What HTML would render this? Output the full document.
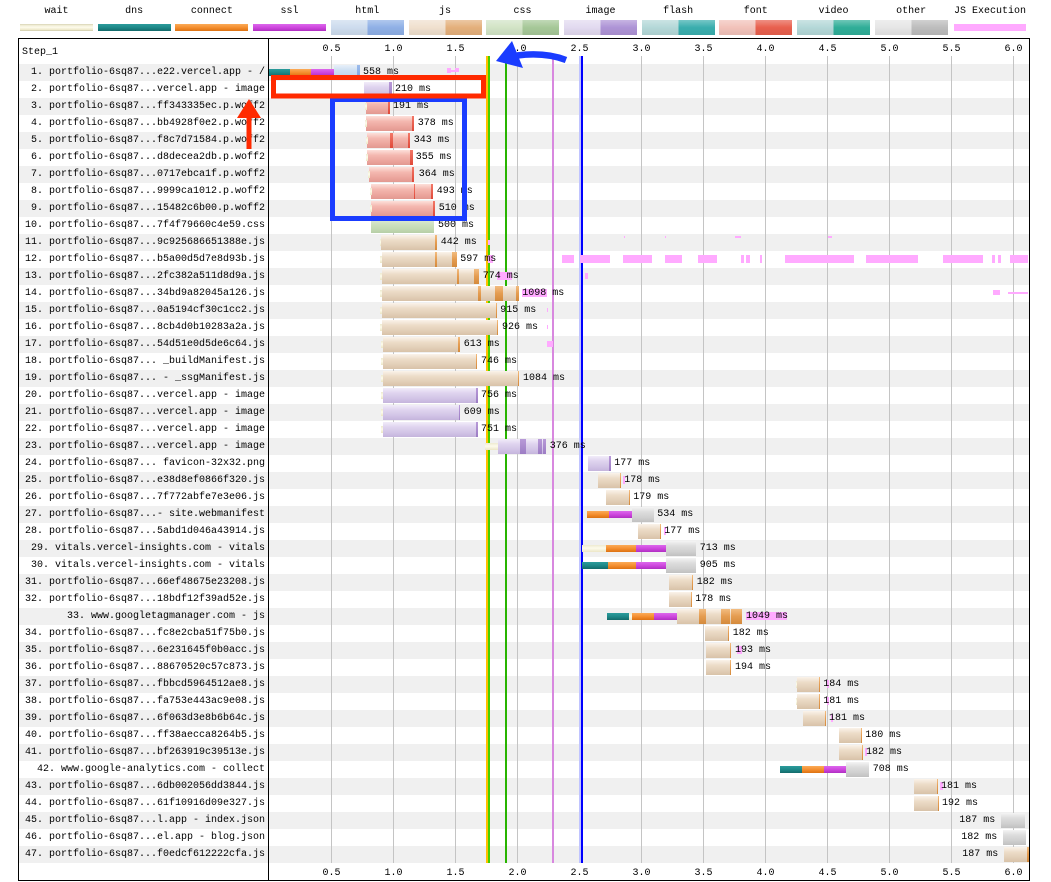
<!DOCTYPE html>
<html><head><meta charset="utf-8">
<style>
*{margin:0;padding:0;box-sizing:border-box}
body{width:1051px;height:882px;background:#fff;position:relative;overflow:hidden;font-family:"Liberation Mono","DejaVu Sans Mono",monospace;font-size:10px;color:#000}
.a{position:absolute}
.lt{position:absolute;top:4px;width:73px;text-align:center;line-height:15px;white-space:nowrap}
.lg{position:absolute;top:20px;height:15px;width:73px}
.lgt{position:absolute;top:24px;height:7px;width:73px}
.st{position:absolute;left:19px;width:1010px;height:17px;background:#f0f0f0}
.tk{position:absolute;top:56px;width:1px;height:807px;background:#c4c4c4}
.ev{position:absolute;top:56px;width:2px;height:807px}
.tl{position:absolute;width:40px;text-align:center;line-height:14px}
.lab{position:absolute;left:19px;top:64px;width:246px;text-align:right;white-space:nowrap}
.lab div{height:17px;line-height:17px;white-space:pre}
.rw{position:absolute;left:0;width:1051px;height:17px}
.rw div{position:absolute}
.f{top:1px;height:15px}
.t{top:5px;height:7px}
.m{top:0;line-height:17px;white-space:nowrap}
.p{top:4px;height:8px;background:#ffaaff}
.js{background:linear-gradient(#faf3ea,#ecdcc8 35%,#e2cfb8 70%,#d8c2a8)}
.jd{background:linear-gradient(#f2bc80,#e49c50 50%,#d48a3c)}
.fo{background:linear-gradient(#fde0da,#f4b8b0 35%,#eca69e 70%,#e29890)}
.fd{background:linear-gradient(#f27868,#e04838)}
.im{background:linear-gradient(#f2ecf9,#ded3ee 35%,#d2c4e6 70%,#c4b4dc)}
.id{background:linear-gradient(#b89ad8,#9c7cc4)}
.cs{background:linear-gradient(#e6f1de,#d0e2c4 35%,#c4dab4 70%,#b6cea6)}
.ht{background:linear-gradient(#e8f0f9,#cedff2 35%,#c2d6ee 70%,#b2cae6)}
.hd{background:linear-gradient(#9cbcec,#7aa0e0)}
.ot{background:linear-gradient(#f4f4f4,#dcdcdc 35%,#d0d0d0 70%,#c0c0c0)}
.dn{background:linear-gradient(#2c9c9c,#1c8686 55%,#136a6a)}
.cn{background:linear-gradient(#fbab58,#f38c2c 55%,#dc7212)}
.ss{background:linear-gradient(#dc68ec,#cc44dc 55%,#b02ec2)}
.wt{background:linear-gradient(#eeead0,#fdfbec 45%,#ece6c6)}
</style></head><body>

<!-- legend -->
<div class="lt" style="left:20px">wait</div>
<div class="lt" style="left:97.7px">dns</div>
<div class="lt" style="left:175.4px">connect</div>
<div class="lt" style="left:253px">ssl</div>
<div class="lt" style="left:330.8px">html</div>
<div class="lt" style="left:408.5px">js</div>
<div class="lt" style="left:486px">css</div>
<div class="lt" style="left:564px">image</div>
<div class="lt" style="left:641.6px">flash</div>
<div class="lt" style="left:719.3px">font</div>
<div class="lt" style="left:797px">video</div>
<div class="lt" style="left:874.7px">other</div>
<div class="lt" style="left:950px;width:80px">JS Execution</div>

<div class="lgt wt" style="left:20px;border-top:1px solid #e0dcc0;border-bottom:1px solid #d8d4b4"></div>
<div class="lgt dn" style="left:97.7px"></div>
<div class="lgt cn" style="left:175.4px"></div>
<div class="lgt ss" style="left:253px"></div>
<div class="lg" style="left:330.8px;background:linear-gradient(rgba(255,255,255,.3),rgba(255,255,255,0) 50%,rgba(0,0,0,.06)),linear-gradient(to right,#cddcee 50%,#8fb0e6 50%)"></div>
<div class="lg" style="left:408.5px;background:linear-gradient(rgba(255,255,255,.3),rgba(255,255,255,0) 50%,rgba(0,0,0,.06)),linear-gradient(to right,#f0e0ce 50%,#e4b07c 50%)"></div>
<div class="lg" style="left:486px;background:linear-gradient(rgba(255,255,255,.3),rgba(255,255,255,0) 50%,rgba(0,0,0,.06)),linear-gradient(to right,#d2e4c6 50%,#a6c898 50%)"></div>
<div class="lg" style="left:564px;background:linear-gradient(rgba(255,255,255,.3),rgba(255,255,255,0) 50%,rgba(0,0,0,.06)),linear-gradient(to right,#e2daf0 50%,#ae94d6 50%)"></div>
<div class="lg" style="left:641.6px;background:linear-gradient(rgba(255,255,255,.3),rgba(255,255,255,0) 50%,rgba(0,0,0,.06)),linear-gradient(to right,#b4d8d8 50%,#3aaeae 50%)"></div>
<div class="lg" style="left:719.3px;background:linear-gradient(rgba(255,255,255,.3),rgba(255,255,255,0) 50%,rgba(0,0,0,.06)),linear-gradient(to right,#f2c2ba 50%,#e8604e 50%)"></div>
<div class="lg" style="left:797px;background:linear-gradient(rgba(255,255,255,.3),rgba(255,255,255,0) 50%,rgba(0,0,0,.06)),linear-gradient(to right,#b4d8d8 50%,#30ae98 50%)"></div>
<div class="lg" style="left:874.7px;background:linear-gradient(rgba(255,255,255,.3),rgba(255,255,255,0) 50%,rgba(0,0,0,.06)),linear-gradient(to right,#e6e6e6 50%,#bdbdbd 50%)"></div>
<div class="lgt" style="left:954px;width:72px;background:#ffaaff"></div>

<!-- stripes -->
<div class="st" style="top:64px"></div>
<div class="st" style="top:98px"></div>
<div class="st" style="top:132px"></div>
<div class="st" style="top:166px"></div>
<div class="st" style="top:200px"></div>
<div class="st" style="top:234px"></div>
<div class="st" style="top:268px"></div>
<div class="st" style="top:302px"></div>
<div class="st" style="top:336px"></div>
<div class="st" style="top:370px"></div>
<div class="st" style="top:404px"></div>
<div class="st" style="top:438px"></div>
<div class="st" style="top:472px"></div>
<div class="st" style="top:506px"></div>
<div class="st" style="top:540px"></div>
<div class="st" style="top:574px"></div>
<div class="st" style="top:608px"></div>
<div class="st" style="top:642px"></div>
<div class="st" style="top:676px"></div>
<div class="st" style="top:710px"></div>
<div class="st" style="top:744px"></div>
<div class="st" style="top:778px"></div>
<div class="st" style="top:812px"></div>
<div class="st" style="top:846px"></div>

<!-- ticks -->
<div class="tk" style="left:331px"></div>
<div class="tk" style="left:393px"></div>
<div class="tk" style="left:455px"></div>
<div class="tk" style="left:517px"></div>
<div class="tk" style="left:579px"></div>
<div class="tk" style="left:641px"></div>
<div class="tk" style="left:703px"></div>
<div class="tk" style="left:765px"></div>
<div class="tk" style="left:827px"></div>
<div class="tk" style="left:889px"></div>
<div class="tk" style="left:951px"></div>
<div class="tk" style="left:1013px"></div>

<!-- tick labels top -->
<div class="tl" style="top:43px;left:311.5px">0.5</div>
<div class="tl" style="top:43px;left:373.5px">1.0</div>
<div class="tl" style="top:43px;left:435.5px">1.5</div>
<div class="tl" style="top:43px;left:497.5px">2.0</div>
<div class="tl" style="top:43px;left:559.5px">2.5</div>
<div class="tl" style="top:43px;left:621.5px">3.0</div>
<div class="tl" style="top:43px;left:683.5px">3.5</div>
<div class="tl" style="top:43px;left:745.5px">4.0</div>
<div class="tl" style="top:43px;left:807.5px">4.5</div>
<div class="tl" style="top:43px;left:869.5px">5.0</div>
<div class="tl" style="top:43px;left:931.5px">5.5</div>
<div class="tl" style="top:43px;left:993.5px">6.0</div>
<!-- tick labels bottom -->
<div class="tl" style="top:867px;left:311.5px">0.5</div>
<div class="tl" style="top:867px;left:373.5px">1.0</div>
<div class="tl" style="top:867px;left:435.5px">1.5</div>
<div class="tl" style="top:867px;left:497.5px">2.0</div>
<div class="tl" style="top:867px;left:559.5px">2.5</div>
<div class="tl" style="top:867px;left:621.5px">3.0</div>
<div class="tl" style="top:867px;left:683.5px">3.5</div>
<div class="tl" style="top:867px;left:745.5px">4.0</div>
<div class="tl" style="top:867px;left:807.5px">4.5</div>
<div class="tl" style="top:867px;left:869.5px">5.0</div>
<div class="tl" style="top:867px;left:931.5px">5.5</div>
<div class="tl" style="top:867px;left:993.5px">6.0</div>

<!-- event lines -->
<div class="ev" style="left:486px;background:#ffc000"></div>
<div class="ev" style="left:488px;background:#44d000"></div>
<div class="ev" style="left:505px;background:#28b400"></div>
<div class="ev" style="left:551.5px;background:#d888df"></div>
<div class="ev" style="left:579px;background:#c0c4ff"></div>
<div class="ev" style="left:581px;background:#0000ff"></div>

<!-- frame -->
<div class="a" style="left:18px;top:38px;width:1012px;height:843px;border:1px solid #000"></div>
<div class="a" style="left:268px;top:38px;width:1px;height:843px;background:#000"></div>
<div class="a" style="left:22px;top:45px;line-height:15px">Step_1</div>

<!-- labels -->
<div class="lab"><div>1. portfolio-6sq87...e22.vercel.app - /</div><div>2. portfolio-6sq87...vercel.app - image</div><div>3. portfolio-6sq87...ff343335ec.p.woff2</div><div>4. portfolio-6sq87...bb4928f0e2.p.woff2</div><div>5. portfolio-6sq87...f8c7d71584.p.woff2</div><div>6. portfolio-6sq87...d8decea2db.p.woff2</div><div>7. portfolio-6sq87...0717ebca1f.p.woff2</div><div>8. portfolio-6sq87...9999ca1012.p.woff2</div><div>9. portfolio-6sq87...15482c6b00.p.woff2</div><div>10. portfolio-6sq87...7f4f79660c4e59.css</div><div>11. portfolio-6sq87...9c925686651388e.js</div><div>12. portfolio-6sq87...b5a00d5d7e8d93b.js</div><div>13. portfolio-6sq87...2fc382a511d8d9a.js</div><div>14. portfolio-6sq87...34bd9a82045a126.js</div><div>15. portfolio-6sq87...0a5194cf30c1cc2.js</div><div>16. portfolio-6sq87...8cb4d0b10283a2a.js</div><div>17. portfolio-6sq87...54d51e0d5de6c64.js</div><div>18. portfolio-6sq87... _buildManifest.js</div><div>19. portfolio-6sq87... - _ssgManifest.js</div><div>20. portfolio-6sq87...vercel.app - image</div><div>21. portfolio-6sq87...vercel.app - image</div><div>22. portfolio-6sq87...vercel.app - image</div><div>23. portfolio-6sq87...vercel.app - image</div><div>24. portfolio-6sq87... favicon-32x32.png</div><div>25. portfolio-6sq87...e38d8ef0866f320.js</div><div>26. portfolio-6sq87...7f772abfe7e3e06.js</div><div>27. portfolio-6sq87...- site.webmanifest</div><div>28. portfolio-6sq87...5abd1d046a43914.js</div><div>29. vitals.vercel-insights.com - vitals</div><div>30. vitals.vercel-insights.com - vitals</div><div>31. portfolio-6sq87...66ef48675e23208.js</div><div>32. portfolio-6sq87...18bdf12f39ad52e.js</div><div>33. www.googletagmanager.com - js</div><div>34. portfolio-6sq87...fc8e2cba51f75b0.js</div><div>35. portfolio-6sq87...6e231645f0b0acc.js</div><div>36. portfolio-6sq87...88670520c57c873.js</div><div>37. portfolio-6sq87...fbbcd5964512ae8.js</div><div>38. portfolio-6sq87...fa753e443ac9e08.js</div><div>39. portfolio-6sq87...6f063d3e8b6b64c.js</div><div>40. portfolio-6sq87...ff38aecca8264b5.js</div><div>41. portfolio-6sq87...bf263919c39513e.js</div><div>42. www.google-analytics.com - collect</div><div>43. portfolio-6sq87...6db002056dd3844.js</div><div>44. portfolio-6sq87...61f10916d09e327.js</div><div>45. portfolio-6sq87...l.app - index.json</div><div>46. portfolio-6sq87...el.app - blog.json</div><div>47. portfolio-6sq87...f0edcf612222cfa.js</div></div>

<!-- rows -->
<div class="rw" style="top:64px">
<div class="t dn" style="left:269px;width:21px"></div>
<div class="t cn" style="left:290px;width:21px"></div>
<div class="t ss" style="left:311px;width:23px"></div>
<div class="f ht" style="left:334px;width:23px"></div>
<div class="f hd" style="left:357px;width:2.5px"></div>
<div class="p" style="left:447px;width:12px;top:6px;height:2px"></div>
<div class="p" style="left:447px;width:4px;top:4px;height:5px"></div>
<div class="p" style="left:455px;width:4px;top:4px;height:4px"></div>
<div class="m" style="left:363px">558 ms</div>
</div>
<div class="rw" style="top:81px">
<div class="f im" style="left:364px;width:25px"></div>
<div class="f id" style="left:389px;width:2.5px"></div>
<div class="m" style="left:395px">210 ms</div>
</div>
<div class="rw" style="top:98px">
<div class="f fo" style="left:366px;width:22px"></div>
<div class="f fd" style="left:388px;width:2px"></div>
<div class="t wt" style="left:365px;width:2px"></div>
<div class="m" style="left:393px">191 ms</div>
</div>
<div class="rw" style="top:115px">
<div class="f fo" style="left:366px;width:46px"></div>
<div class="f fd" style="left:412px;width:2px"></div>
<div class="t wt" style="left:365px;width:2px"></div>
<div class="m" style="left:417.7px">378 ms</div>
</div>
<div class="rw" style="top:132px">
<div class="f fo" style="left:367px;width:23px"></div>
<div class="f fd" style="left:390px;width:3px"></div>
<div class="f fo" style="left:393px;width:15px"></div>
<div class="f fd" style="left:408px;width:2px"></div>
<div class="t wt" style="left:366px;width:2px"></div>
<div class="m" style="left:413.7px">343 ms</div>
</div>
<div class="rw" style="top:149px">
<div class="f fo" style="left:367px;width:43px"></div>
<div class="f fd" style="left:410px;width:2.5px"></div>
<div class="t wt" style="left:366px;width:2px"></div>
<div class="m" style="left:415.7px">355 ms</div>
</div>
<div class="rw" style="top:166px">
<div class="f fo" style="left:369px;width:43px"></div>
<div class="f fd" style="left:412px;width:2.3px"></div>
<div class="t wt" style="left:368px;width:2px"></div>
<div class="m" style="left:418.7px">364 ms</div>
</div>
<div class="rw" style="top:183px">
<div class="f fo" style="left:371px;width:43px"></div>
<div class="f fd" style="left:414px;width:1px"></div>
<div class="f fo" style="left:415px;width:16px"></div>
<div class="f fd" style="left:431px;width:2.3px"></div>
<div class="t wt" style="left:370px;width:2px"></div>
<div class="m" style="left:436.7px">493 ms</div>
</div>
<div class="rw" style="top:200px">
<div class="f fo" style="left:371px;width:61.5px"></div>
<div class="f fd" style="left:432.5px;width:2.5px"></div>
<div class="t wt" style="left:370px;width:2px"></div>
<div class="m" style="left:438.7px">510 ms</div>
</div>
<div class="rw" style="top:217px">
<div class="f cs" style="left:371px;width:62.7px"></div>
<div class="m" style="left:438px">500 ms</div>
</div>
<div class="rw" style="top:234px">
<div class="t wt" style="left:379.5px;width:2px"></div>
<div class="f js" style="left:381px;width:54px"></div>
<div class="f jd" style="left:435px;width:1.7px"></div>
<div class="p" style="left:488px;width:2px;top:6px;height:5px"></div>
<div class="p" style="left:624px;width:1px;top:2px;height:2px"></div>
<div class="p" style="left:665px;width:1px;top:2px;height:2px"></div>
<div class="p" style="left:735px;width:6px;top:2px;height:2px"></div>
<div class="p" style="left:828px;width:4px;top:2px;height:2px"></div>
<div class="m" style="left:440.7px">442 ms</div>
</div>
<div class="rw" style="top:251px">
<div class="t wt" style="left:380px;width:2px"></div>
<div class="f js" style="left:382px;width:53px"></div>
<div class="f jd" style="left:435px;width:1.7px"></div>
<div class="f js" style="left:436.7px;width:15.6px"></div>
<div class="f jd" style="left:452.3px;width:4.4px"></div>
<div class="p" style="left:488px;width:5px"></div>
<div class="p" style="left:562px;width:12px"></div>
<div class="p" style="left:580px;width:30px"></div>
<div class="p" style="left:623px;width:29px"></div>
<div class="p" style="left:665px;width:17px"></div>
<div class="p" style="left:698px;width:19px"></div>
<div class="p" style="left:741px;width:3px"></div>
<div class="p" style="left:746px;width:4px"></div>
<div class="p" style="left:760px;width:2px"></div>
<div class="p" style="left:785px;width:69px"></div>
<div class="p" style="left:866px;width:52px"></div>
<div class="p" style="left:943px;width:40px"></div>
<div class="p" style="left:992px;width:3px"></div>
<div class="p" style="left:998px;width:3px"></div>
<div class="p" style="left:1010px;width:18px"></div>
<div class="m" style="left:460.3px">597 ms</div>
</div>
<div class="rw" style="top:268px">
<div class="t wt" style="left:380px;width:2px"></div>
<div class="f js" style="left:382px;width:75px"></div>
<div class="f jd" style="left:457px;width:1.7px"></div>
<div class="f js" style="left:458.7px;width:15.6px"></div>
<div class="f jd" style="left:474.3px;width:4.4px"></div>
<div class="p" style="left:497px;width:15px"></div>
<div class="p" style="left:585px;width:3px;top:5px;height:6px"></div>
<div class="m" style="left:482.7px">774 ms</div>
</div>
<div class="rw" style="top:285px">
<div class="t wt" style="left:380px;width:2px"></div>
<div class="f js" style="left:382px;width:95.7px"></div>
<div class="f jd" style="left:477.7px;width:3px"></div>
<div class="f js" style="left:480.7px;width:14.3px"></div>
<div class="f jd" style="left:495px;width:7.7px"></div>
<div class="f js" style="left:502.7px;width:13.3px"></div>
<div class="f jd" style="left:516px;width:2.7px"></div>
<div class="p" style="left:522px;width:25px"></div>
<div class="p" style="left:993px;width:7px;top:5px;height:5px"></div>
<div class="p" style="left:1008px;width:20px;top:7px;height:2px"></div>
<div class="m" style="left:522.3px">1098 ms</div>
</div>
<div class="rw" style="top:302px">
<div class="t wt" style="left:380px;width:2px"></div>
<div class="f js" style="left:382px;width:113.5px"></div>
<div class="f jd" style="left:495.5px;width:1.5px"></div>
<div class="p" style="left:546.7px;width:1.5px;top:6px;height:4px"></div>
<div class="m" style="left:500.3px">915 ms</div>
</div>
<div class="rw" style="top:319px">
<div class="t wt" style="left:380px;width:2px"></div>
<div class="f js" style="left:382px;width:114.5px"></div>
<div class="f jd" style="left:496.5px;width:1.5px"></div>
<div class="p" style="left:546.7px;width:1.5px;top:6px;height:4px"></div>
<div class="m" style="left:502px">926 ms</div>
</div>
<div class="rw" style="top:336px">
<div class="t wt" style="left:381px;width:2px"></div>
<div class="f js" style="left:383px;width:75px"></div>
<div class="f jd" style="left:458px;width:2px"></div>
<div class="p" style="left:546.7px;width:6px;top:5px;height:6px"></div>
<div class="m" style="left:463.7px">613 ms</div>
</div>
<div class="rw" style="top:353px">
<div class="t wt" style="left:381px;width:2px"></div>
<div class="f js" style="left:383px;width:92.5px"></div>
<div class="f jd" style="left:475.5px;width:1.5px"></div>
<div class="m" style="left:481px">746 ms</div>
</div>
<div class="rw" style="top:370px">
<div class="t wt" style="left:381px;width:2px"></div>
<div class="f js" style="left:383px;width:134.5px"></div>
<div class="f jd" style="left:517.5px;width:1.5px"></div>
<div class="m" style="left:523px">1084 ms</div>
</div>
<div class="rw" style="top:387px">
<div class="t wt" style="left:381px;width:2px"></div>
<div class="f im" style="left:383px;width:93px"></div>
<div class="f id" style="left:476px;width:1.7px"></div>
<div class="m" style="left:481px">756 ms</div>
</div>
<div class="rw" style="top:404px">
<div class="t wt" style="left:381px;width:2px"></div>
<div class="f im" style="left:383px;width:75.5px"></div>
<div class="f id" style="left:458.5px;width:1.5px"></div>
<div class="m" style="left:463.7px">609 ms</div>
</div>
<div class="rw" style="top:421px">
<div class="t wt" style="left:381px;width:2px"></div>
<div class="f im" style="left:383px;width:93px"></div>
<div class="f id" style="left:476px;width:1.7px"></div>
<div class="m" style="left:481px">751 ms</div>
</div>
<div class="rw" style="top:438px">
<div class="t wt" style="left:485px;width:13px"></div>
<div class="f im" style="left:498px;width:22px"></div>
<div class="f id" style="left:520px;width:6px"></div>
<div class="f im" style="left:526px;width:12.3px"></div>
<div class="f id" style="left:538.3px;width:3.4px"></div>
<div class="f im" style="left:541.7px;width:1.3px"></div>
<div class="f id" style="left:543px;width:3px"></div>
<div class="m" style="left:549.7px">376 ms</div>
</div>
<div class="rw" style="top:455px">
<div class="f im" style="left:588px;width:21px"></div>
<div class="f id" style="left:609px;width:1.7px"></div>
<div class="m" style="left:614.3px">177 ms</div>
</div>
<div class="rw" style="top:472px">
<div class="f js" style="left:598px;width:21.5px"></div>
<div class="f jd" style="left:619.5px;width:1.5px"></div>
<div class="p" style="left:623px;width:1.5px"></div>
<div class="m" style="left:624.3px">178 ms</div>
</div>
<div class="rw" style="top:489px">
<div class="f js" style="left:606px;width:22.5px"></div>
<div class="f jd" style="left:628.5px;width:1.5px"></div>
<div class="m" style="left:633.3px">179 ms</div>
</div>
<div class="rw" style="top:506px">
<div class="t cn" style="left:587px;width:22.3px"></div>
<div class="t ss" style="left:609.3px;width:22.4px"></div>
<div class="f ot" style="left:631.7px;width:22px"></div>
<div class="m" style="left:657.3px">534 ms</div>
</div>
<div class="rw" style="top:523px">
<div class="f js" style="left:638px;width:21.5px"></div>
<div class="f jd" style="left:659.5px;width:1.5px"></div>
<div class="p" style="left:664px;width:1.7px"></div>
<div class="m" style="left:664.3px">177 ms</div>
</div>
<div class="rw" style="top:540px">
<div class="t wt" style="left:582px;width:24px"></div>
<div class="t cn" style="left:606px;width:30px"></div>
<div class="t ss" style="left:636px;width:30px"></div>
<div class="f ot" style="left:666px;width:29.7px"></div>
<div class="m" style="left:699.7px">713 ms</div>
</div>
<div class="rw" style="top:557px">
<div class="t dn" style="left:582px;width:26px"></div>
<div class="t cn" style="left:608px;width:28px"></div>
<div class="t ss" style="left:636px;width:30px"></div>
<div class="f ot" style="left:666px;width:29.7px"></div>
<div class="m" style="left:699.7px">905 ms</div>
</div>
<div class="rw" style="top:574px">
<div class="f js" style="left:669px;width:22.5px"></div>
<div class="f jd" style="left:691.5px;width:1.5px"></div>
<div class="m" style="left:696.7px">182 ms</div>
</div>
<div class="rw" style="top:591px">
<div class="f js" style="left:669px;width:21.5px"></div>
<div class="f jd" style="left:690.5px;width:1.5px"></div>
<div class="m" style="left:695.3px">178 ms</div>
</div>
<div class="rw" style="top:608px">
<div class="t dn" style="left:606.7px;width:22.6px"></div>
<div class="t wt" style="left:629.3px;width:2.7px"></div>
<div class="t cn" style="left:632px;width:22px"></div>
<div class="t ss" style="left:654px;width:22.7px"></div>
<div class="f js" style="left:676.7px;width:22.3px"></div>
<div class="f jd" style="left:699px;width:7px"></div>
<div class="f js" style="left:706px;width:15px"></div>
<div class="f jd" style="left:721px;width:9px"></div>
<div class="f js" style="left:730px;width:1px"></div>
<div class="f jd" style="left:731px;width:11px"></div>
<div class="p" style="left:746px;width:40.7px"></div>
<div class="m" style="left:746px">1049 ms</div>
</div>
<div class="rw" style="top:625px">
<div class="f js" style="left:705px;width:22.5px"></div>
<div class="f jd" style="left:727.5px;width:1.5px"></div>
<div class="m" style="left:732.7px">182 ms</div>
</div>
<div class="rw" style="top:642px">
<div class="f js" style="left:706px;width:23.5px"></div>
<div class="f jd" style="left:729.5px;width:1.5px"></div>
<div class="p" style="left:736.7px;width:5px"></div>
<div class="m" style="left:735px">193 ms</div>
</div>
<div class="rw" style="top:659px">
<div class="f js" style="left:706px;width:23.5px"></div>
<div class="f jd" style="left:729.5px;width:1.5px"></div>
<div class="m" style="left:735px">194 ms</div>
</div>
<div class="rw" style="top:676px">
<div class="t wt" style="left:796px;width:2px"></div>
<div class="f js" style="left:797px;width:21.5px"></div>
<div class="f jd" style="left:818.5px;width:1.5px"></div>
<div class="p" style="left:827.3px;width:1.4px"></div>
<div class="m" style="left:823.3px">184 ms</div>
</div>
<div class="rw" style="top:693px">
<div class="t wt" style="left:796px;width:2px"></div>
<div class="f js" style="left:797px;width:21.5px"></div>
<div class="f jd" style="left:818.5px;width:1.5px"></div>
<div class="p" style="left:827.3px;width:1.4px"></div>
<div class="m" style="left:823.3px">181 ms</div>
</div>
<div class="rw" style="top:710px">
<div class="f js" style="left:803px;width:21.5px"></div>
<div class="f jd" style="left:824.5px;width:1.5px"></div>
<div class="p" style="left:831.3px;width:1.4px"></div>
<div class="m" style="left:829px">181 ms</div>
</div>
<div class="rw" style="top:727px">
<div class="f js" style="left:839px;width:21.5px"></div>
<div class="f jd" style="left:860.5px;width:1.5px"></div>
<div class="m" style="left:865.3px">180 ms</div>
</div>
<div class="rw" style="top:744px">
<div class="f js" style="left:839px;width:22.5px"></div>
<div class="f jd" style="left:861.5px;width:1.5px"></div>
<div class="p" style="left:865px;width:1.7px"></div>
<div class="m" style="left:866px">182 ms</div>
</div>
<div class="rw" style="top:761px">
<div class="t dn" style="left:780px;width:22px"></div>
<div class="t cn" style="left:802px;width:22px"></div>
<div class="t ss" style="left:824px;width:22px"></div>
<div class="f ot" style="left:846px;width:23px"></div>
<div class="m" style="left:872.7px">708 ms</div>
</div>
<div class="rw" style="top:778px">
<div class="f js" style="left:914px;width:22.5px"></div>
<div class="f jd" style="left:936.5px;width:1.5px"></div>
<div class="p" style="left:940px;width:2.7px"></div>
<div class="m" style="left:941px">181 ms</div>
</div>
<div class="rw" style="top:795px">
<div class="f js" style="left:914px;width:23.5px"></div>
<div class="f jd" style="left:937.5px;width:1.5px"></div>
<div class="m" style="left:942px">192 ms</div>
</div>
<div class="rw" style="top:812px">
<div class="f ot" style="left:1001px;width:24px"></div>
<div class="m" style="left:959.3px">187 ms</div>
</div>
<div class="rw" style="top:829px">
<div class="f ot" style="left:1003px;width:23px"></div>
<div class="m" style="left:961.3px">182 ms</div>
</div>
<div class="rw" style="top:846px">
<div class="f js" style="left:1004px;width:23px"></div>
<div class="f jd" style="left:1027px;width:2px"></div>
<div class="m" style="left:962.3px">187 ms</div>
</div>

<!-- annotations -->
<svg class="a" style="left:0;top:0" width="1051" height="882" viewBox="0 0 1051 882">
<rect x="332.5" y="99.5" width="132" height="119" fill="none" stroke="#1a3cff" stroke-width="5"/>
<rect x="273.5" y="77.5" width="210" height="18.5" fill="none" stroke="#ff2a00" stroke-width="5"/>
<rect x="246.5" y="116" width="5" height="33" fill="#ff2a00"/>
<polygon points="249,99 237,118 261,118" fill="#ff2a00"/>
<path d="M566 60 Q545 52 517 55.5" fill="none" stroke="#1a3cff" stroke-width="6.5"/>
<polygon points="496,61 512,41 523,68" fill="#1a3cff"/>
</svg>
</body></html>
